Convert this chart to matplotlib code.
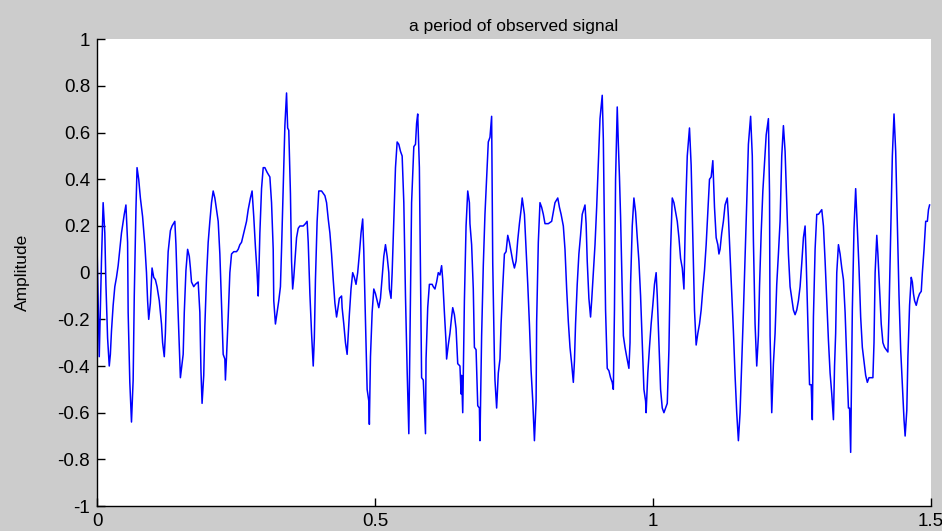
import matplotlib
matplotlib.use("Agg")
import matplotlib.pyplot as plt

# observed signal, vertices (time in s, amplitude)
t = [0.000, 0.004, 0.008, 0.011, 0.014, 0.016, 0.019, 0.022, 0.024, 0.026,
     0.029, 0.032, 0.035, 0.038, 0.041, 0.044, 0.049, 0.052, 0.055, 0.056,
     0.059, 0.062, 0.065, 0.067, 0.070, 0.072, 0.075, 0.078, 0.082, 0.086,
     0.089, 0.091, 0.093, 0.096, 0.099, 0.102, 0.105, 0.108, 0.112, 0.116,
     0.118, 0.121, 0.123, 0.125, 0.128, 0.132, 0.135, 0.140, 0.142, 0.145,
     0.150, 0.155, 0.157, 0.160, 0.163, 0.166, 0.168, 0.170, 0.174, 0.177,
     0.182, 0.185, 0.187, 0.189, 0.192, 0.194, 0.197, 0.200, 0.203, 0.206,
     0.209, 0.212, 0.215, 0.218, 0.221, 0.224, 0.227, 0.230, 0.231, 0.233,
     0.236, 0.239, 0.242, 0.246, 0.251, 0.254, 0.257, 0.260, 0.263, 0.266,
     0.269, 0.272, 0.276, 0.279, 0.282, 0.285, 0.288, 0.290, 0.291, 0.293,
     0.296, 0.299, 0.302, 0.306, 0.311, 0.314, 0.317, 0.318, 0.321, 0.324,
     0.327, 0.330, 0.332, 0.335, 0.338, 0.341, 0.343, 0.345, 0.348, 0.350,
     0.352, 0.354, 0.356, 0.359, 0.362, 0.365, 0.371, 0.375, 0.378, 0.380,
     0.383, 0.386, 0.389, 0.391, 0.393, 0.396, 0.399, 0.404, 0.410, 0.413,
     0.416, 0.419, 0.422, 0.425, 0.428, 0.431, 0.433, 0.436, 0.440, 0.441,
     0.444, 0.447, 0.450, 0.454, 0.457, 0.460, 0.463, 0.466, 0.469, 0.472,
     0.475, 0.478, 0.480, 0.483, 0.486, 0.489, 0.490, 0.492, 0.495, 0.498,
     0.501, 0.504, 0.507, 0.510, 0.513, 0.516, 0.519, 0.522, 0.525, 0.526,
     0.529, 0.531, 0.534, 0.537, 0.540, 0.543, 0.546, 0.549, 0.552, 0.555,
     0.558, 0.561, 0.566, 0.570, 0.573, 0.575, 0.577, 0.580, 0.582, 0.584,
     0.587, 0.589, 0.591, 0.592, 0.595, 0.598, 0.601, 0.603, 0.605, 0.608,
     0.611, 0.614, 0.617, 0.620, 0.622, 0.625, 0.628, 0.629, 0.632, 0.635,
     0.638, 0.640, 0.643, 0.646, 0.649, 0.653, 0.655, 0.656, 0.658, 0.661,
     0.664, 0.667, 0.670, 0.671, 0.674, 0.677, 0.679, 0.682, 0.685, 0.688,
     0.689, 0.692, 0.695, 0.698, 0.701, 0.704, 0.707, 0.710, 0.712, 0.715,
     0.716, 0.719, 0.722, 0.725, 0.727, 0.730, 0.733, 0.736, 0.739, 0.742,
     0.745, 0.748, 0.751, 0.754, 0.757, 0.760, 0.763, 0.765, 0.769, 0.772,
     0.775, 0.778, 0.781, 0.784, 0.787, 0.790, 0.791, 0.794, 0.797, 0.800,
     0.803, 0.806, 0.812, 0.818, 0.821, 0.824, 0.829, 0.832, 0.835, 0.839,
     0.842, 0.845, 0.848, 0.851, 0.854, 0.857, 0.859, 0.861, 0.864, 0.867,
     0.870, 0.873, 0.878, 0.880, 0.882, 0.885, 0.888, 0.890, 0.893, 0.896,
     0.899, 0.902, 0.905, 0.909, 0.911, 0.913, 0.915, 0.918, 0.921, 0.924,
     0.927, 0.929, 0.931, 0.933, 0.936, 0.938, 0.940, 0.942, 0.945, 0.947,
     0.950, 0.953, 0.957, 0.959, 0.960, 0.963, 0.966, 0.969, 0.972, 0.975,
     0.978, 0.981, 0.984, 0.987, 0.988, 0.991, 0.994, 0.997, 1.000, 1.003,
     1.006, 1.008, 1.011, 1.014, 1.017, 1.020, 1.023, 1.026, 1.029, 1.032,
     1.035, 1.038, 1.041, 1.044, 1.047, 1.050, 1.053, 1.056, 1.059, 1.062,
     1.066, 1.069, 1.072, 1.075, 1.078, 1.081, 1.084, 1.087, 1.090, 1.093,
     1.096, 1.099, 1.102, 1.105, 1.108, 1.111, 1.114, 1.117, 1.119, 1.121,
     1.124, 1.127, 1.130, 1.134, 1.136, 1.139, 1.142, 1.145, 1.148, 1.151,
     1.154, 1.157, 1.160, 1.163, 1.166, 1.169, 1.172, 1.176, 1.179, 1.181,
     1.184, 1.187, 1.190, 1.192, 1.195, 1.198, 1.201, 1.204, 1.208, 1.210,
     1.211, 1.214, 1.217, 1.220, 1.223, 1.226, 1.229, 1.232, 1.235, 1.238,
     1.241, 1.244, 1.247, 1.250, 1.253, 1.256, 1.259, 1.262, 1.265, 1.268,
     1.271, 1.274, 1.276, 1.279, 1.282, 1.285, 1.287, 1.289, 1.292, 1.295,
     1.298, 1.301, 1.304, 1.307, 1.310, 1.313, 1.316, 1.319, 1.322, 1.325,
     1.327, 1.329, 1.331, 1.334, 1.337, 1.340, 1.343, 1.346, 1.349, 1.352,
     1.354, 1.356, 1.359, 1.362, 1.365, 1.368, 1.371, 1.374, 1.377, 1.380,
     1.383, 1.386, 1.389, 1.393, 1.396, 1.398, 1.400, 1.403, 1.405, 1.408,
     1.411, 1.414, 1.417, 1.420, 1.423, 1.425, 1.428, 1.431, 1.434, 1.437,
     1.440, 1.443, 1.446, 1.449, 1.452, 1.454, 1.457, 1.459, 1.462, 1.465,
     1.467, 1.469, 1.471, 1.474, 1.477, 1.480, 1.483, 1.485, 1.488, 1.491,
     1.494, 1.496, 1.498]

amp = [0.12, -0.36, 0.05, 0.30, 0.17, -0.05, -0.28, -0.40, -0.35, -0.25,
       -0.14, -0.06, -0.02, 0.03, 0.10, 0.17, 0.25, 0.29, 0.13, -0.17,
       -0.47, -0.64, -0.46, -0.10, 0.27, 0.45, 0.40, 0.32, 0.24, 0.12,
       0.00, -0.12, -0.20, -0.13, 0.02, -0.02, -0.03, -0.06, -0.12, -0.22,
       -0.30, -0.36, -0.26, -0.09, 0.09, 0.18, 0.20, 0.22, 0.12, -0.11,
       -0.45, -0.35, -0.17, 0.01, 0.10, 0.07, 0.02, -0.04, -0.06, -0.05,
       -0.04, -0.17, -0.42, -0.56, -0.44, -0.23, -0.02, 0.13, 0.22, 0.30,
       0.35, 0.32, 0.27, 0.22, 0.08, -0.13, -0.35, -0.37, -0.46, -0.36,
       -0.19, 0.00, 0.08, 0.09, 0.09, 0.10, 0.12, 0.13, 0.16, 0.19,
       0.22, 0.27, 0.32, 0.35, 0.24, 0.11, 0.00, -0.10, -0.02, 0.17,
       0.36, 0.45, 0.45, 0.43, 0.41, 0.30, 0.10, -0.12, -0.22, -0.17,
       -0.12, -0.06, 0.10, 0.37, 0.63, 0.77, 0.62, 0.61, 0.34, 0.05,
       -0.07, -0.02, 0.05, 0.15, 0.19, 0.20, 0.20, 0.21, 0.22, 0.13,
       -0.09, -0.26, -0.40, -0.28, -0.03, 0.22, 0.35, 0.35, 0.33, 0.30,
       0.23, 0.17, 0.08, -0.03, -0.13, -0.19, -0.16, -0.11, -0.10, -0.15,
       -0.22, -0.30, -0.35, -0.18, -0.07, 0.00, -0.02, -0.05, 0.00, 0.08,
       0.17, 0.23, 0.09, -0.20, -0.50, -0.55, -0.65, -0.36, -0.17, -0.07,
       -0.09, -0.12, -0.15, -0.11, -0.02, 0.07, 0.12, 0.07, 0.00, -0.07,
       -0.11, 0.00, 0.22, 0.45, 0.56, 0.55, 0.52, 0.50, 0.30, -0.10,
       -0.42, -0.69, 0.30, 0.54, 0.55, 0.64, 0.68, 0.45, 0.00, -0.45,
       -0.46, -0.57, -0.69, -0.37, -0.15, -0.05, -0.05, -0.05, -0.06, -0.07,
       -0.04, 0.00, -0.01, 0.03, -0.03, -0.17, -0.30, -0.37, -0.31, -0.26,
       -0.19, -0.15, -0.18, -0.24, -0.39, -0.40, -0.52, -0.44, -0.60, -0.12,
       0.20, 0.35, 0.30, 0.21, 0.12, -0.07, -0.32, -0.33, -0.57, -0.58,
       -0.72, -0.27, 0.03, 0.25, 0.41, 0.56, 0.58, 0.67, 0.04, -0.37,
       -0.46, -0.58, -0.43, -0.37, -0.22, -0.06, 0.08, 0.09, 0.16, 0.13,
       0.09, 0.05, 0.02, 0.05, 0.14, 0.21, 0.27, 0.32, 0.25, 0.10,
       -0.05, -0.22, -0.42, -0.55, -0.72, -0.55, -0.21, 0.13, 0.30, 0.28,
       0.25, 0.21, 0.21, 0.22, 0.26, 0.30, 0.32, 0.28, 0.25, 0.20,
       0.10, -0.07, -0.21, -0.32, -0.39, -0.47, -0.38, -0.22, -0.05, 0.08,
       0.16, 0.25, 0.29, 0.21, 0.05, -0.11, -0.19, -0.12, 0.00, 0.12,
       0.28, 0.47, 0.66, 0.76, 0.57, 0.18, -0.16, -0.41, -0.42, -0.45,
       -0.47, -0.50, -0.16, 0.40, 0.71, 0.55, 0.41, 0.24, -0.08, -0.27,
       -0.32, -0.36, -0.41, -0.30, -0.05, 0.20, 0.32, 0.26, 0.15, 0.05,
       -0.10, -0.30, -0.50, -0.55, -0.60, -0.43, -0.32, -0.22, -0.14, -0.05,
       0.00, -0.10, -0.30, -0.50, -0.58, -0.60, -0.58, -0.56, -0.33, 0.10,
       0.32, 0.30, 0.26, 0.22, 0.15, 0.06, 0.02, -0.07, 0.27, 0.50,
       0.62, 0.46, 0.15, -0.16, -0.31, -0.26, -0.22, -0.16, -0.07, 0.01,
       0.12, 0.26, 0.40, 0.41, 0.48, 0.28, 0.15, 0.12, 0.08, 0.10,
       0.17, 0.22, 0.29, 0.32, 0.24, 0.08, -0.08, -0.25, -0.44, -0.60,
       -0.72, -0.60, -0.39, -0.17, 0.06, 0.30, 0.55, 0.67, 0.50, 0.14,
       -0.22, -0.40, -0.27, -0.06, 0.17, 0.35, 0.47, 0.59, 0.66, 0.34,
       -0.27, -0.60, -0.39, -0.26, -0.05, 0.08, 0.22, 0.50, 0.63, 0.52,
       0.30, 0.08, -0.06, -0.11, -0.16, -0.18, -0.16, -0.12, -0.06, 0.04,
       0.15, 0.20, 0.05, -0.22, -0.48, -0.48, -0.63, -0.19, 0.10, 0.25,
       0.25, 0.26, 0.27, 0.20, 0.05, -0.12, -0.29, -0.43, -0.52, -0.63,
       -0.40, -0.26, 0.00, 0.12, 0.08, 0.02, -0.03, -0.17, -0.38, -0.58,
       -0.58, -0.77, -0.16, 0.19, 0.36, 0.19, 0.02, -0.19, -0.32, -0.38,
       -0.44, -0.47, -0.45, -0.45, -0.45, -0.30, 0.00, 0.16, 0.08, -0.07,
       -0.22, -0.30, -0.32, -0.33, -0.34, -0.17, 0.17, 0.50, 0.68, 0.52,
       0.21, -0.10, -0.33, -0.48, -0.63, -0.70, -0.59, -0.36, -0.14, -0.02,
       -0.04, -0.09, -0.12, -0.14, -0.11, -0.09, -0.08, 0.00, 0.10, 0.22,
       0.22, 0.27, 0.29]

xticks = [0, 0.5, 1, 1.5]
xticklabels = ["0", "0.5", "1", "1.5"]
yticks = [1, 0.8, 0.6, 0.4, 0.2, 0, -0.2, -0.4, -0.6, -0.8, -1]
yticklabels = ["1", "0.8", "0.6", "0.4", "0.2", "0", "-0.2", "-0.4", "-0.6", "-0.8", "-1"]

plt.rcParams["font.family"] = ["Liberation Sans Narrow", "Liberation Sans", "DejaVu Sans"]

fig = plt.figure(figsize=(9.42, 5.31), dpi=100, facecolor="#cccccc")
ax = fig.add_axes([0.103, 0.047, 0.885, 0.879])
ax.set_facecolor("white")

ax.plot(t, amp, color="#0000ff", linewidth=1.1)

ax.set_xlim(0, 1.5)
ax.set_ylim(-1, 1)
ax.set_xticks(xticks)
ax.set_xticklabels(xticklabels)
ax.set_yticks(yticks)
ax.set_yticklabels(yticklabels)
ax.tick_params(direction="in", length=6, width=1, labelsize=13.5, pad=5)

ax.spines["top"].set_visible(False)
ax.spines["right"].set_visible(False)
ax.spines["left"].set_linewidth(1)
ax.spines["bottom"].set_linewidth(1)

ax.set_title("a period of observed signal", fontsize=12.5, pad=6)
ax.set_ylabel("Amplitude", fontsize=12.5, labelpad=20)

fig.savefig("out.png", dpi=100, facecolor=fig.get_facecolor())
